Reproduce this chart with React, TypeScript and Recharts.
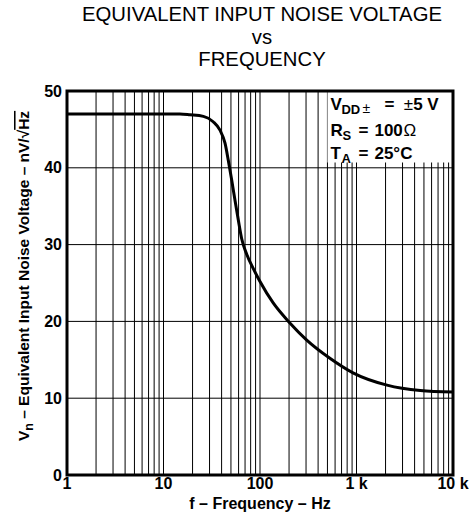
import React from 'react';
import { LineChart, Line, XAxis, YAxis, CartesianGrid, ReferenceArea } from 'recharts';

const freqHz = [1, 5, 10, 14.8, 18.8, 25.9, 32.7, 38.5, 43.4, 46.9, 50.9, 55, 59.6, 64.5, 73, 85, 100, 137, 204, 303, 530, 920, 2070, 4570, 10000];
const vnValues = [47, 47, 47, 47, 46.9, 46.7, 46.0, 44.9, 43.2, 41.0, 38.4, 35.8, 33.2, 30.8, 28.7, 26.9, 25.2, 22.4, 19.8, 17.6, 15.2, 13.3, 11.7, 11.0, 10.8];

const decades = [1, 10, 100, 1000];
const multipliers = [1, 2, 3, 4, 5, 6, 7, 8, 9];
const xGridTicks = [...decades.flatMap((d) => multipliers.map((m) => d * m)), 10000];
const xTickLabels: Record<number, string> = { 1: '1', 10: '10', 100: '100', 1000: '1 k', 10000: '10 k' };
const yTicks = [0, 10, 20, 30, 40, 50];

const data = freqHz.map((f, i) => ({ f, vn: vnValues[i] }));

const FONT = '"Liberation Sans", Arial, Helvetica, sans-serif';

const YLabel = () => {
  const cx = 29;
  const cy = 276;
  return (
    <text
      x={cx}
      y={cy}
      transform={`rotate(-90, ${cx}, ${cy})`}
      textAnchor="middle"
      fontFamily={FONT}
      fontWeight="bold"
      fontSize={15.5}
      fill="#000"
    >
      <tspan>V</tspan>
      <tspan fontSize={12.5} dy={4}>n</tspan>
      <tspan dy={-4}> – Equivalent Input Noise Voltage – nV/√</tspan>
      <tspan style={{ textDecoration: 'overline' }}>Hz</tspan>
    </text>
  );
};

const LegendText = (props: any) => {
  const vb = props.viewBox || { x: 327, y: 91 };
  const x0 = Number(vb.x ?? 327);
  const y0 = Number(vb.y ?? 91);
  const b1 = y0 + 19;
  const b2 = y0 + 45;
  const b3 = y0 + 68;
  return (
    <g fontFamily={FONT} fontWeight="bold" fontSize={17} fill="#000">
      <text x={x0 + 3} y={b1}>V</text>
      <text x={x0 + 14} y={b1 + 4} fontSize={13}>DD</text>
      <text x={x0 + 35} y={b1 + 3} fontSize={14} fontWeight="normal">±</text>
      <text x={x0 + 57} y={b1} style={{ whiteSpace: 'pre' }}>
        <tspan>=  </tspan>
        <tspan fontWeight="normal">±</tspan>
        <tspan>5 V</tspan>
      </text>

      <text x={x0 + 3} y={b2}>R</text>
      <text x={x0 + 15} y={b2 + 4} fontSize={13}>S</text>
      <text x={x0 + 31} y={b2}>=</text>
      <text x={x0 + 47} y={b2}>100</text>
      <text x={x0 + 76} y={b2} fontWeight="normal">Ω</text>

      <text x={x0 + 3} y={b3}>T</text>
      <text x={x0 + 14} y={b3 + 4} fontSize={13}>A</text>
      <text x={x0 + 31} y={b3}>=</text>
      <text x={x0 + 47} y={b3}>25°C</text>
    </g>
  );
};

export default function App() {
  return (
    <div style={{ position: 'absolute', left: 0, top: 0, width: 469, height: 529, background: '#fff' }}>
      <div
        style={{
          position: 'absolute',
          left: 0,
          top: 0,
          width: 524,
          textAlign: 'center',
          fontFamily: FONT,
          fontSize: 20.3,
          color: '#000',
          lineHeight: '22.5px',
          paddingTop: 3,
        }}
      >
        <div>EQUIVALENT INPUT NOISE VOLTAGE</div>
        <div>vs</div>
        <div>FREQUENCY</div>
      </div>
      <div style={{ position: 'absolute', left: 0, top: 0 }}>
        <LineChart width={469} height={529} data={data} margin={{ top: 91, right: 16, left: 0, bottom: 0 }}>
          <CartesianGrid stroke="#000" strokeWidth={1} />
          <XAxis
            dataKey="f"
            type="number"
            scale="log"
            domain={[1, 10000]}
            allowDataOverflow
            ticks={xGridTicks}
            interval={0}
            tickFormatter={(v: number) => xTickLabels[v] ?? ''}
            tickLine={false}
            axisLine={false}
            tickSize={0}
            tickMargin={3}
            height={54}
            tick={{ fill: '#000', fontSize: 16, fontWeight: 'bold', fontFamily: FONT }}
            label={{
              value: 'f – Frequency – Hz',
              position: 'insideBottom',
              offset: 20,
              fill: '#000',
              fontSize: 16,
              fontWeight: 'bold',
              fontFamily: FONT,
            }}
          />
          <YAxis
            type="number"
            domain={[0, 50]}
            ticks={yTicks}
            interval={0}
            tickLine={false}
            axisLine={false}
            tickSize={0}
            tickMargin={5}
            width={67}
            tick={{ fill: '#000', fontSize: 16, fontWeight: 'bold', fontFamily: FONT }}
            label={{ content: <YLabel /> }}
          />
          <ReferenceArea
            x1={500}
            x2={10000}
            y1={40.7}
            y2={50}
            fill="#fff"
            fillOpacity={1}
            stroke="none"
            ifOverflow="visible"
            label={<LegendText />}
          />
          <Line
            type="monotone"
            dataKey="vn"
            stroke="#000"
            strokeWidth={3}
            dot={false}
            isAnimationActive={false}
          />
          <ReferenceArea
            x1={1}
            x2={10000}
            y1={0}
            y2={50}
            fill="none"
            stroke="#000"
            strokeWidth={3}
            ifOverflow="visible"
          />
        </LineChart>
      </div>
    </div>
  );
}
